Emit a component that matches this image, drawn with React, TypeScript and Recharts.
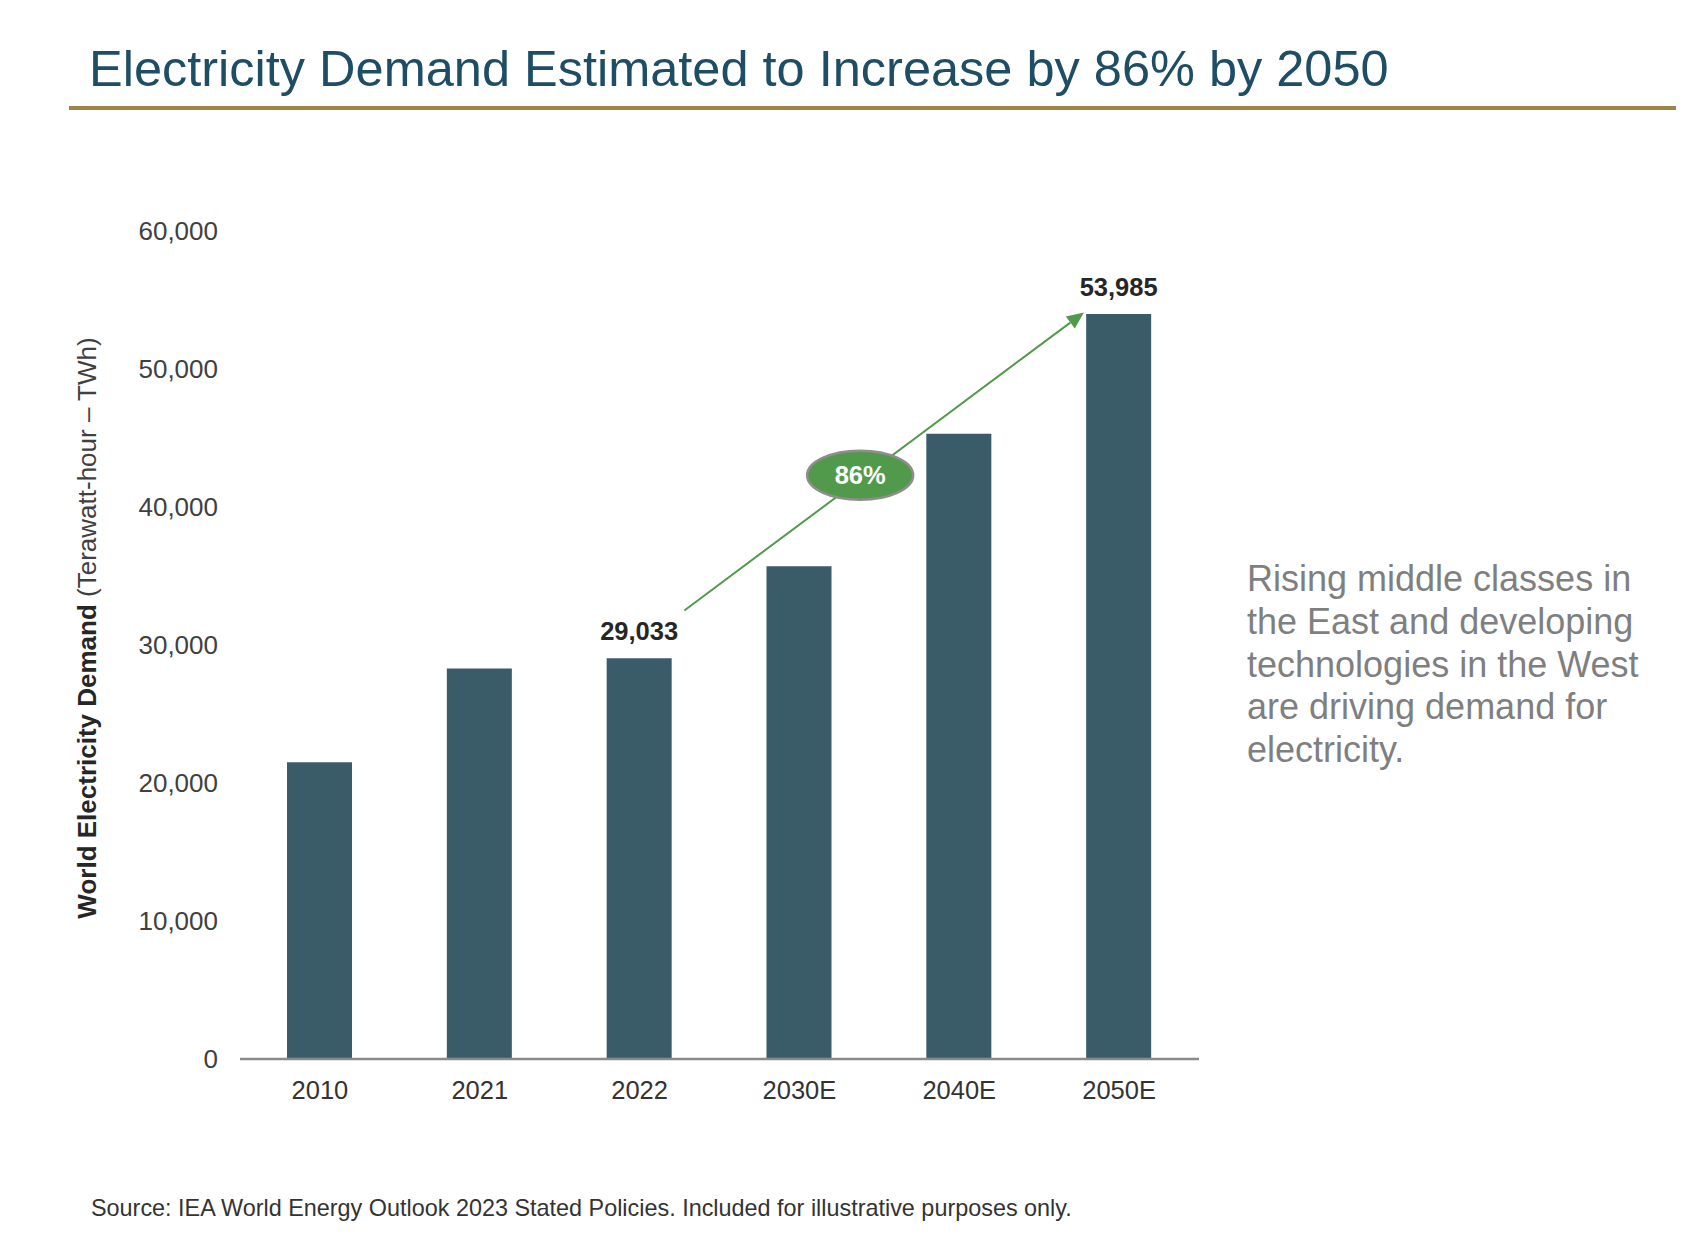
import React from 'react';
import { BarChart, Bar, XAxis, YAxis, LabelList, ReferenceLine, ReferenceDot } from 'recharts';

// ---- data ----
const categories = ['2010', '2021', '2022', '2030E', '2040E', '2050E'];
const demandTWh = [21500, 28300, 29033, 35700, 45300, 53985];
const valueLabels = [null, null, '29,033', null, null, '53,985'];
const yTicks = [0, 10000, 20000, 30000, 40000, 50000, 60000];
const growthLabel = '86%';

const titleText = 'Electricity Demand Estimated to Increase by 86% by 2050';
const yAxisBold = 'World Electricity Demand';
const yAxisRegular = ' (Terawatt-hour \u2013 TWh)';
const sideLines = [
  'Rising middle classes in',
  'the East and developing',
  'technologies in the West',
  'are driving demand for',
  'electricity.',
];
const sourceText =
  'Source: IEA World Energy Outlook 2023 Stated Policies. Included for illustrative purposes only.';

const data = categories.map((c, i) => ({
  category: c,
  idx: i,
  demand: demandTWh[i],
  label: valueLabels[i],
}));

// annotation anchors (category index units on hidden numeric axis, TWh on y)
const arrowFrom = { x: 2.28, y: 32500 };
const arrowTo = { x: 4.78, y: 54100 };
const badgeAt = { x: 3.38, y: 42300 };

const FONT = '"Liberation Sans", Arial, Helvetica, sans-serif';
const BAR = '#3A5B68';
const GREEN = '#529A4B';

const fmt = (v: number) => v.toLocaleString('en-US');

const ArrowShape = (props: any) => {
  const { x1, y1, x2, y2 } = props;
  const ang = Math.atan2(y2 - y1, x2 - x1);
  const L = 17;
  const W = 7.5;
  const bx = x2 - L * Math.cos(ang);
  const by = y2 - L * Math.sin(ang);
  const px = -Math.sin(ang) * W;
  const py = Math.cos(ang) * W;
  return (
    <g>
      <line x1={x1} y1={y1} x2={bx} y2={by} stroke={GREEN} strokeWidth={2} />
      <polygon
        points={`${x2},${y2} ${bx + px},${by + py} ${bx - px},${by - py}`}
        fill={GREEN}
      />
    </g>
  );
};

const BadgeShape = (props: any) => {
  const { cx, cy } = props;
  return (
    <g>
      <ellipse cx={cx} cy={cy} rx={53} ry={24.5} fill={GREEN} stroke="#8E8E8E" strokeWidth={2.5} />
      <text
        x={cx}
        y={cy + 9}
        textAnchor="middle"
        fill="#FFFFFF"
        fontWeight="bold"
        fontSize={25.5}
        fontFamily={FONT}
      >
        {growthLabel}
      </text>
    </g>
  );
};

export default function App() {
  return (
    <div
      style={{
        position: 'absolute',
        left: 0,
        top: 0,
        width: 1698,
        height: 1240,
        background: '#FFFFFF',
        fontFamily: FONT,
      }}
    >
      <BarChart
        width={1698}
        height={1240}
        data={data}
        margin={{ top: 231, right: 499, bottom: 121, left: 110 }}
      >
        <XAxis
          dataKey="category"
          height={60}
          tickLine={false}
          axisLine={{ stroke: '#8A8A8A', strokeWidth: 2.5 }}
          tickSize={0}
          tickMargin={22}
          tick={{ fill: '#333333', fontSize: 25.5, fontFamily: FONT }}
          interval={0}
        />
        <XAxis
          xAxisId="n"
          dataKey="idx"
          type="number"
          domain={[-0.5, 5.5]}
          allowDataOverflow
          padding={{ left: 0, right: 0 }}
          hide
        />
        <YAxis
          width={130}
          domain={[0, 60000]}
          ticks={yTicks}
          tickFormatter={fmt}
          axisLine={false}
          tickLine={false}
          tickSize={0}
          tickMargin={22}
          tick={{ fill: '#404040', fontSize: 26, fontFamily: FONT }}
        />
        <Bar dataKey="demand" fill={BAR} barSize={65} isAnimationActive={false}>
          <LabelList
            dataKey="label"
            position="top"
            offset={18}
            fill="#262626"
            fontSize={25.5}
            fontWeight="bold"
            fontFamily={FONT}
          />
        </Bar>
        <ReferenceLine
          xAxisId="n"
          segment={[arrowFrom, arrowTo]}
          stroke={GREEN}
          strokeWidth={2}
          ifOverflow="visible"
          shape={ArrowShape}
        />
        <ReferenceDot
          xAxisId="n"
          x={badgeAt.x}
          y={badgeAt.y}
          r={24}
          ifOverflow="visible"
          shape={BadgeShape}
        />
      </BarChart>
      <svg
        width={1698}
        height={1240}
        style={{ position: 'absolute', left: 0, top: 0, pointerEvents: 'none' }}
      >
        <text x={89} y={86} fontSize={50.5} fill="#1E4E66" fontFamily={FONT}>
          {titleText}
        </text>
        <rect x={69} y={106} width={1607} height={4} fill="#9C8547" />
        <text
          transform="translate(96,628) rotate(-90)"
          textAnchor="middle"
          fontSize={26}
          fill="#262626"
          fontFamily={FONT}
        >
          <tspan fontWeight="bold">{yAxisBold}</tspan>
          <tspan fill="#404040">{yAxisRegular}</tspan>
        </text>
        <text x={1247} y={591} fontSize={36} fill="#7F7F7F" fontFamily={FONT}>
          {sideLines.map((l, i) => (
            <tspan key={i} x={1247} dy={i === 0 ? 0 : 42.8}>
              {l}
            </tspan>
          ))}
        </text>
        <text x={91} y={1216} fontSize={23.4} fill="#333333" fontFamily={FONT}>
          {sourceText}
        </text>
      </svg>
    </div>
  );
}
